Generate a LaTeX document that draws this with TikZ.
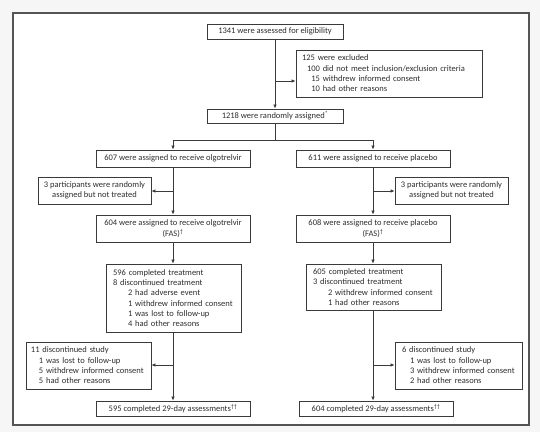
\documentclass[tikz,border=0pt]{standalone}
\usepackage{fontspec}
\setmainfont{Carlito}
\usetikzlibrary{arrows.meta}
\definecolor{linecol}{HTML}{3A3A3A}
\definecolor{txtcol}{HTML}{2E2E2E}
\definecolor{framecol}{HTML}{555555}
\definecolor{bgcol}{HTML}{F6F6F6}
\newcommand{\fsz}{\fontsize{8.5}{10.3}\selectfont\hyphenpenalty=10000\exhyphenpenalty=10000}
\newcommand{\bxline}[2][0pt]{\mbox{\hspace*{#1}#2}}
\tikzset{
  boxnode/.style={draw=linecol, line width=0.9pt, inner sep=0pt, font=\fsz, text=txtcol, fill=white},
  lbox/.style={boxnode, align=left},
  cbox/.style={boxnode, align=center},
  conn/.style={draw=linecol, line width=0.9pt},
  arr/.style={conn, -{Latex[length=4pt,width=3.6pt]}}
}
\begin{document}
\begin{tikzpicture}[x=1pt,y=-1pt]
\useasboundingbox (0,0) rectangle (540,432);
\fill[bgcol] (0,0) rectangle (540,432);
\draw[draw=framecol, line width=1.3pt, fill=white] (13,13) rectangle (529,425);

% nodes
\node[cbox, minimum width=136pt, minimum height=15pt] (n1341) at (275,31.5) {1341 were assessed for eligibility};
\node[lbox, minimum width=186pt, minimum height=47pt, text width=174pt] (excl) at (389,73.5)
  {\bxline{125 were excluded}\\
   \bxline[5pt]{100 did not meet inclusion/exclusion criteria}\\
   \bxline[9.3pt]{15 withdrew informed consent}\\
   \bxline[9.3pt]{10 had other reasons}};
\node[cbox, minimum width=136pt, minimum height=14pt] (n1218) at (275,116) {1218 were randomly assigned\textsuperscript{*}};

\node[cbox, minimum width=154pt, minimum height=17pt] (n607) at (173,158.5) {607 were assigned to receive olgotrelvir};
\node[cbox, minimum width=154pt, minimum height=17pt] (n611) at (373,158.5) {611 were assigned to receive placebo};

\node[cbox, minimum width=113pt, minimum height=27pt] (ntl) at (94.5,190.5) {3 participants were randomly\\assigned but not treated};
\node[cbox, minimum width=113pt, minimum height=27pt] (ntr) at (451.5,190.5) {3 participants were randomly\\assigned but not treated};

\node[cbox, minimum width=154pt, minimum height=27pt] (n604) at (173,228.5) {604 were assigned to receive olgotrelvir\\(FAS)\textsuperscript{†}};
\node[cbox, minimum width=154pt, minimum height=27pt] (n608) at (373,228.5) {608 were assigned to receive placebo\\(FAS)\textsuperscript{†}};

\node[lbox, minimum width=135pt, minimum height=68pt, text width=125pt] (n596) at (173.5,298)
  {\bxline[2pt]{596 completed treatment}\\
   \bxline[2pt]{8 discontinued treatment}\\
   \bxline[17pt]{2 had adverse event}\\
   \bxline[17pt]{1 withdrew informed consent}\\
   \bxline[17pt]{1 was lost to follow-up}\\
   \bxline[17pt]{4 had other reasons}};
\node[lbox, minimum width=135pt, minimum height=46pt, text width=125pt] (n605) at (373.5,287)
  {\bxline[2pt]{605 completed treatment}\\
   \bxline[2pt]{3 discontinued treatment}\\
   \bxline[17pt]{2 withdrew informed consent}\\
   \bxline[17pt]{1 had other reasons}};

\node[lbox, minimum width=125pt, minimum height=47pt, text width=117pt] (dl) at (88.5,365.5)
  {\bxline[1pt]{11 discontinued study}\\
   \bxline[9pt]{1 was lost to follow-up}\\
   \bxline[9pt]{5 withdrew informed consent}\\
   \bxline[9pt]{5 had other reasons}};
\node[lbox, minimum width=127pt, minimum height=47pt, text width=117pt] (dr) at (458.5,365.5)
  {\bxline[2pt]{6 discontinued study}\\
   \bxline[10pt]{1 was lost to follow-up}\\
   \bxline[10pt]{3 withdrew informed consent}\\
   \bxline[10pt]{2 had other reasons}};

\node[cbox, minimum width=154pt, minimum height=15pt] (c595) at (173,408.5) {595 completed 29-day assessments\textsuperscript{††}};
\node[cbox, minimum width=154pt, minimum height=15pt] (c604) at (376,408.5) {604 completed 29-day assessments\textsuperscript{††}};

% connectors
\draw[arr] (n1341.south) -- (n1218.north);
\coordinate (ex) at (275,81);
\draw[arr] (ex) -- (ex -| excl.west);

\draw[arr] (n1218.south) -- ++(0,17) -| (n607.north);
\draw[arr] (n1218.south) -- ++(0,17) -| (n611.north);

\draw[arr] (n607.south) -- (n604.north);
\coordinate (bl) at (173,191);
\draw[arr] (bl) -- (bl -| ntl.east);
\draw[arr] (n611.south) -- (n608.north);
\coordinate (br) at (373,191);
\draw[arr] (br) -- (br -| ntr.west);

\draw[arr] (n604.south) -- (n596.north -| n604.south);
\draw[arr] (n608.south) -- (n605.north -| n608.south);

\draw[arr] (n596.south -| c595.north) -- (c595.north);
\coordinate (dlc) at (173,365);
\draw[arr] (dlc) -- (dlc -| dl.east);
\coordinate (r5) at (n605.south -| n608.south);
\draw[arr] (r5) -- (r5 |- c604.north);
\coordinate (drc) at (373,365);
\draw[arr] (drc) -- (drc -| dr.west);
\end{tikzpicture}
\end{document}
